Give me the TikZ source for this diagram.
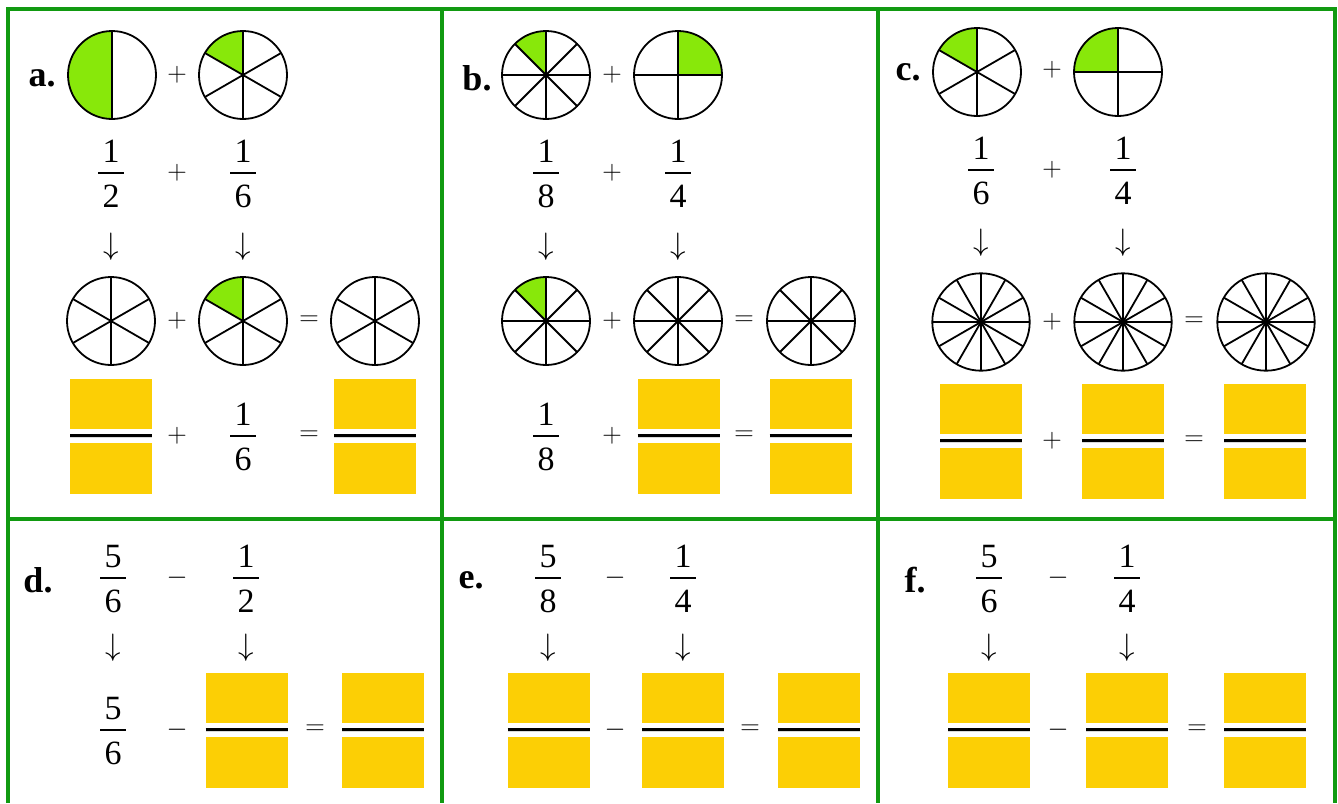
\RequirePackage{fix-cm}
\documentclass[tikz,border=0pt]{standalone}
\usepackage{fontspec}
\setmainfont{Liberation Serif}
\usetikzlibrary{calc}

\definecolor{piegreen}{HTML}{88E80A}
\definecolor{boxyellow}{HTML}{FCCF05}
\definecolor{gridgreen}{HTML}{119A11}

% pie: name, centre, radius, number of parts, green from, green to
\newcommand{\pie}[6]{%
\coordinate (#1) at (#2);
\ifnum#5=#6\relax\else\fill[piegreen] (#1) -- ++(#5:#3) arc[start angle=#5, end angle=#6, radius=#3] -- cycle;\fi
\foreach \k in {1,...,#4} \draw[spoke] (#1) -- ++({90+360*\k/#4}:#3);
\draw[spoke] (#1) circle (#3);}

% fraction: name, bar centre, numerator, denominator
\newcommand{\frc}[4]{%
\coordinate (#1) at (#2);
\node[digit, anchor=base] (#1-n) at ([yshift=11pt]#1) {#3};
\draw[fracbar] ([xshift=-13pt]#1) -- ([xshift=13pt]#1);
\node[digit, anchor=base] (#1-d) at ([yshift=-34pt]#1) {#4};}

% empty fraction to fill in: name, bar centre
\newcommand{\blank}[2]{%
\coordinate (#1) at (#2);
\fill[boxyellow] ([shift={(-41,7)}]#1) rectangle ([shift={(41,57)}]#1);
\fill[boxyellow] ([shift={(-41,-7)}]#1) rectangle ([shift={(41,-58)}]#1);
\draw[line width=1pt, gray!30] ([shift={(-41,-1.8)}]#1) -- ([shift={(41,-1.8)}]#1);
\draw[line width=2.8pt] ([shift={(-41,0.3)}]#1) -- ([shift={(41,0.3)}]#1);}

\begin{document}
\begin{tikzpicture}[x=1pt,y=1pt]
\tikzstyle{spoke} = [line width=1.8pt]
\tikzstyle{fracbar} = [line width=1.7pt]
\tikzstyle{digit} = [inner sep=0pt, font=\fontsize{34}{40}\selectfont]
\tikzstyle{sign} = [inner sep=0pt, font=\fontsize{27}{32}\selectfont]
\tikzstyle{down} = [inner sep=0pt, font=\fontsize{31}{36}\selectfont]
\tikzstyle{tag} = [inner sep=0pt, font=\fontsize{36}{40}\selectfont\bfseries]
\tikzstyle{grid} = [line width=4pt, gridgreen]

\useasboundingbox (0,0) rectangle (1338,-803);

\draw[grid] (8,-803) -- (8,-9) -- (1335,-9) -- (1335,-803);
\draw[grid] (8,-519) -- (1335,-519);
\draw[grid] (442,-9) -- (442,-803);
\draw[grid] (878,-9) -- (878,-803);

% a
\node[tag] (a) at (42,-78) {a.};

\pie{a-p1}{112,-75}{44}{2}{90}{270}
\node[sign] (a-s1) at (177,-75) {$+$};
\pie{a-p2}{243,-75}{44}{6}{90}{150}

\frc{a-f1}{111,-173}{1}{2}
\node[sign] (a-s2) at (177,-173) {$+$};
\frc{a-f2}{243,-173}{1}{6}

\node[down] (a-d1) at (111,-247) {$\downarrow$};
\node[down] (a-d2) at (243,-247) {$\downarrow$};

\pie{a-p3}{111,-321}{44}{6}{0}{0}
\node[sign] (a-s3) at (177,-321) {$+$};
\pie{a-p4}{243,-321}{44}{6}{90}{150}
\node[sign] (a-e1) at (309,-321) {$=$};
\pie{a-p5}{375,-321}{44}{6}{0}{0}

\blank{a-b1}{111,-436}
\node[sign] (a-s4) at (177,-436) {$+$};
\frc{a-f3}{243,-436}{1}{6}
\node[sign] (a-e2) at (309,-436) {$=$};
\blank{a-b2}{375,-436}

% b
\node[tag] (b) at (477,-78) {b.};

\pie{b-p1}{546,-75}{44}{8}{90}{135}
\node[sign] (b-s1) at (612,-75) {$+$};
\pie{b-p2}{678,-75}{44}{4}{0}{90}

\frc{b-f1}{546,-173}{1}{8}
\node[sign] (b-s2) at (612,-173) {$+$};
\frc{b-f2}{678,-173}{1}{4}

\node[down] (b-d1) at (546,-247) {$\downarrow$};
\node[down] (b-d2) at (678,-247) {$\downarrow$};

\pie{b-p3}{546,-321}{44}{8}{90}{135}
\node[sign] (b-s3) at (612,-321) {$+$};
\pie{b-p4}{678,-321}{44}{8}{0}{0}
\node[sign] (b-e1) at (744,-321) {$=$};
\pie{b-p5}{811,-321}{44}{8}{0}{0}

\frc{b-f3}{546,-436}{1}{8}
\node[sign] (b-s4) at (612,-436) {$+$};
\blank{b-b1}{678.5,-436}
\node[sign] (b-e2) at (744,-436) {$=$};
\blank{b-b2}{810.5,-436}

% c
\node[tag] (c) at (908,-72) {c.};

\pie{c-p1}{977,-72}{44}{6}{90}{150}
\node[sign] (c-s1) at (1052,-70) {$+$};
\pie{c-p2}{1118,-72}{44}{4}{90}{180}

\frc{c-f1}{981,-170}{1}{6}
\node[sign] (c-s2) at (1052,-170) {$+$};
\frc{c-f2}{1123,-170}{1}{4}

\node[down] (c-d1) at (981,-243) {$\downarrow$};
\node[down] (c-d2) at (1123,-243) {$\downarrow$};

\pie{c-p3}{981,-322}{48.7}{12}{0}{0}
\node[sign] (c-s3) at (1052,-322) {$+$};
\pie{c-p4}{1123,-322}{48.7}{12}{0}{0}
\node[sign] (c-e1) at (1194,-322) {$=$};
\pie{c-p5}{1266,-322}{48.7}{12}{0}{0}

\blank{c-b1}{981,-441}
\node[sign] (c-s4) at (1052,-441) {$+$};
\blank{c-b2}{1123,-441}
\node[sign] (c-e2) at (1194,-441) {$=$};
\blank{c-b3}{1265,-441}

% d
\node[tag] (d) at (38,-580) {d.};

\frc{d-f1}{113,-578}{5}{6}
\node[sign] (d-m1) at (177,-578) {$-$};
\frc{d-f2}{246,-578}{1}{2}

\node[down] (d-d1) at (113,-648) {$\downarrow$};
\node[down] (d-d2) at (246,-648) {$\downarrow$};

\frc{d-f3}{113,-730}{5}{6}
\node[sign] (d-m2) at (177,-730) {$-$};
\blank{d-b1}{246.5,-730}
\node[sign] (d-e1) at (315,-730) {$=$};
\blank{d-b2}{383,-730}

% e
\node[tag] (e) at (471,-580) {e.};

\frc{e-f1}{548,-578}{5}{8}
\node[sign] (e-m1) at (615,-578) {$-$};
\frc{e-f2}{683,-578}{1}{4}

\node[down] (e-d1) at (548,-648) {$\downarrow$};
\node[down] (e-d2) at (683,-648) {$\downarrow$};

\blank{e-b1}{548.5,-730}
\node[sign] (e-m2) at (615,-730) {$-$};
\blank{e-b2}{683,-730}
\node[sign] (e-e1) at (750,-730) {$=$};
\blank{e-b3}{818.5,-730}

% f
\node[tag] (f) at (915,-580) {f.};

\frc{f-f1}{989,-578}{5}{6}
\node[sign] (f-m1) at (1058,-578) {$-$};
\frc{f-f2}{1127,-578}{1}{4}

\node[down] (f-d1) at (989,-648) {$\downarrow$};
\node[down] (f-d2) at (1127,-648) {$\downarrow$};

\blank{f-b1}{989,-730}
\node[sign] (f-m2) at (1058,-730) {$-$};
\blank{f-b2}{1127,-730}
\node[sign] (f-e1) at (1197,-730) {$=$};
\blank{f-b3}{1265,-730}

\end{tikzpicture}
\end{document}
